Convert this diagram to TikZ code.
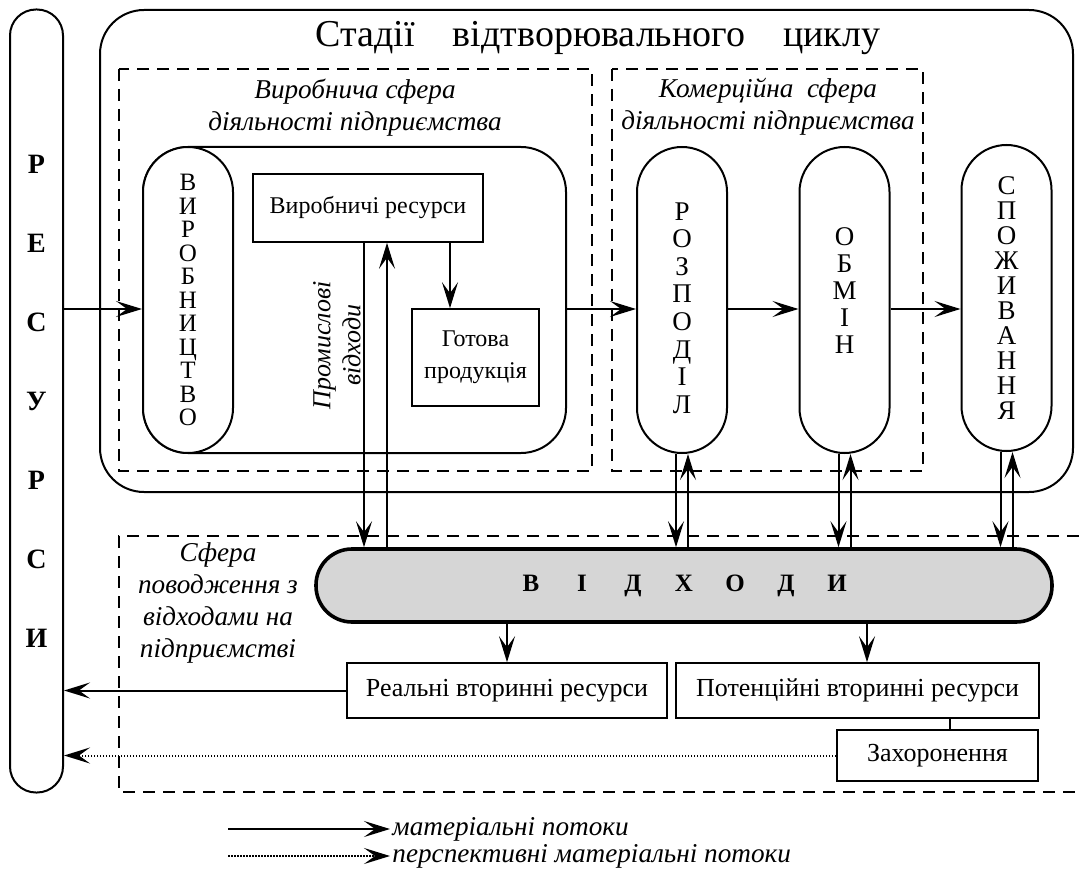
\documentclass[tikz,border=0pt]{standalone}
\usepackage{fontspec}
\setmainfont{Liberation Serif}
\usetikzlibrary{
  positioning,
  calc,
  arrows.meta
}

\newcommand{\wl}[1]{\makebox[25.5pt]{#1}}

\begin{document}
\begin{tikzpicture}[
      x=0.5pt, y=-0.5pt,
      every node/.style={font=\fontsize{13}{15}\selectfont},
      box/.style={draw, line width=0.8pt, inner sep=0pt, align=center},
      pill/.style={draw, line width=1pt, fill=white, rounded corners=22.5pt, minimum width=45pt, minimum height=153pt, inner sep=0pt, align=center},
      frame/.style={line width=1pt},
      zone/.style={line width=0.8pt, dash pattern=on 6pt off 4pt},
      note/.style={align=center, font=\fontsize{13.6}{16}\itshape},
      arrow/.style={-{Stealth[length=13pt, width=8pt, inset=5.5pt]}, line width=1pt},
      dotarrow/.style={arrow, dash pattern=on 0.8pt off 0.7pt}
    ]
      \useasboundingbox (0,0) rectangle (1079,871);

      % Frames
      \draw[frame, rounded corners=22pt] (100,10) rectangle (1073,492);
      \draw[zone] (119,69) rectangle (592,471);
      \draw[zone] (612,69) rectangle (923,471);
      \draw[zone] (1079,536) -- (119,536) -- (119,792) -- (1079,792);

      % Nodes
      \node[draw, line width=1pt, rounded corners=13pt, minimum width=26.5pt, minimum height=391.5pt, inner sep=0pt, align=center,
            font=\fontsize{14}{39.5}\selectfont\bfseries] (res) at (36.5,401)
            {Р\\Е\\С\\У\\Р\\С\\И};
      \node[font=\fontsize{19}{22}\selectfont] (title) at (598,38) {Стадії\quad відтворювального\quad циклу};
      \node[note] (prodnote) at (355,108) {Виробнича сфера\\діяльності підприємства};
      \node[note] (comnote) at (768,107) {Комерційна\ \ сфера\\діяльності підприємства};

      \node[draw, line width=1pt, rounded corners=22.5pt, minimum width=211.5pt, minimum height=153pt] (prodzone) at (354.5,300) {};
      \node[pill, font=\fontsize{12.5}{11.75}\selectfont] (viro) at (188,300) {В\\И\\Р\\О\\Б\\Н\\И\\Ц\\Т\\В\\О};
      \node[box, minimum width=115pt, minimum height=34pt, font=\fontsize{12}{14}\selectfont] (vres) at (368,208) {Виробничі ресурси};
      \node[box, minimum width=63.5pt, minimum height=48.5pt, font=\fontsize{12}{16}\selectfont] (gotova) at (475.5,357.5) {Готова\\продукція};
      \node[note, rotate=90, font=\fontsize{13}{15}\itshape] (promnote) at (337,345) {Промислові\\відходи};

      \node[pill] (rozp) at (682,300) {};
      \node[align=center, font=\fontsize{13.5}{13.8}\selectfont] (rozptxt) at ([yshift=-4pt]rozp.center) {Р\\О\\З\\П\\О\\Д\\І\\Л};
      \node[pill] (obmin) at (844.5,300) {};
      \node[align=center, font=\fontsize{13.5}{13.5}\selectfont] (obmintxt) at ([yshift=4.5pt]obmin.center) {О\\Б\\М\\І\\Н};
      \node[pill, font=\fontsize{13.5}{12.5}\selectfont] (spozh) at (1006.5,298) {С\\П\\О\\Ж\\И\\В\\А\\Н\\Н\\Я};

      \node[draw, line width=1.8pt, fill=black!16, rounded corners=18pt, minimum width=368pt, minimum height=36.5pt, inner sep=0pt,
            font=\fontsize{12.5}{14}\selectfont\bfseries] (waste) at (684,585.5)
            {\wl{В}\wl{І}\wl{Д}\wl{Х}\wl{О}\wl{Д}\wl{И}};
      \node[note] (wastenote) at (218,603) {Сфера\\поводження з\\відходами на\\підприємстві};

      \node[box, minimum width=160pt, minimum height=27.5pt] (real) at (507,690.5) {Реальні вторинні ресурси};
      \node[box, minimum width=181.5pt, minimum height=27.5pt] (potent) at (857.5,690.5) {Потенційні вторинні ресурси};
      \node[box, minimum width=100.5pt, minimum height=25.5pt] (burial) at (937.5,755.5) {Захоронення};

      % Helper lines
      \coordinate (fy) at (0,309);
      \coordinate (wd) at (364,0);
      \coordinate (wu) at (387,0);
      \coordinate (gx) at (450,0);
      \coordinate (px) at (867,0);
      \coordinate (bx) at (950,0);

      % Arrows
      \draw[arrow] (res.east |- fy) -- (viro.west |- fy);
      \draw[arrow] (prodzone.east |- fy) -- (rozp.west |- fy);
      \draw[arrow] (rozp.east |- fy) -- (obmin.west |- fy);
      \draw[arrow] (obmin.east |- fy) -- (spozh.west |- fy);
      \draw[arrow] (vres.south -| gx) -- (gotova.north -| gx);
      \draw[arrow] (vres.south -| wd) -- (waste.north -| wd);
      \draw[arrow] (waste.north -| wu) -- (vres.south -| wu);
      \foreach \p in {rozp, obmin, spozh} {
        \draw[arrow] ($(\p.south)+(-3pt,0)$) -- ($(\p.south |- waste.north)+(-3pt,0)$);
        \draw[arrow] ($(\p.south |- waste.north)+(3pt,0)$) -- ($(\p.south)+(3pt,0)$);
      }
      \draw[arrow] (waste.south -| real.north) -- (real.north);
      \draw[arrow] (waste.south -| px) -- (potent.north -| px);
      \draw[line width=0.8pt] (potent.south -| bx) -- (burial.north -| bx);
      \draw[arrow] (real.west) -- (res.east |- real.west);
      \draw[dotarrow] (burial.west) -- (res.east |- burial.west);

      % Legend
      \coordinate (leg1) at (228,829);
      \coordinate (leg2) at (228,856);
      \node[note, anchor=west, inner sep=1pt] (legsolid) at (390,829) {матеріальні потоки};
      \node[note, anchor=west, inner sep=1pt] (legdot) at (390,856) {перспективні матеріальні потоки};
      \draw[arrow] (leg1) -- (legsolid.west);
      \draw[dotarrow] (leg2) -- (legdot.west);
    \end{tikzpicture}
\end{document}
